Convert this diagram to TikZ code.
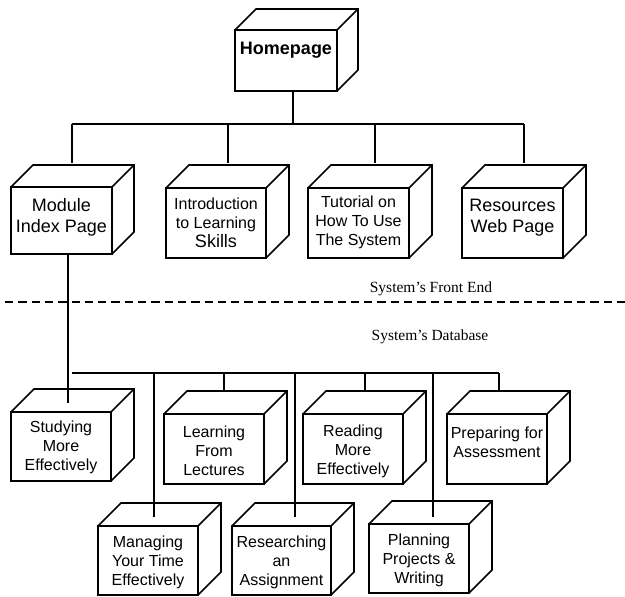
\documentclass[tikz,border=0pt]{standalone}
\usepackage{fontspec}
\setmainfont{Liberation Sans}
\newfontfamily\seriffont{Liberation Serif}
\usetikzlibrary{calc}

\tikzset{
  cube/.style={draw, line width=1.6pt, outer sep=0pt, inner sep=0pt},
  boxtext/.style={align=center, inner sep=0pt, font=\fontsize{16}{19}\selectfont},
  bigtext/.style={align=center, inner sep=0pt, font=\fontsize{18}{21}\selectfont},
  conn/.style={line width=1.6pt},
  sepline/.style={line width=1.6pt, dash pattern=on 8.3pt off 5pt},
  labeltext/.style={inner sep=0pt, font=\seriffont\fontsize{15.5}{18}\selectfont},
}

% name, cx, cy, w, h, depth
\newcommand\mycube[6]{%
  \node[cube, minimum width=#4pt, minimum height=#5pt] (#1) at (#2,#3) {};
  \draw[line width=1.6pt, line join=miter]
    (#1.north west) -- ++(#6,-#6) -- ($(#1.north east)+(#6,-#6)$)
    -- ($(#1.south east)+(#6,-#6)$) -- (#1.south east)
    (#1.north east) -- ($(#1.north east)+(#6,-#6)$);
}

\begin{document}
\begin{tikzpicture}[x=1pt, y=-1pt]
\useasboundingbox (0,0) rectangle (625,597);

% ---- cubes ----
\mycube{home}{286}{60.5}{102}{61}{21}
\node[bigtext, font=\bfseries\fontsize{18}{21}\selectfont] (homeT) at ($(home.center)+(0,-10)$) {Homepage};

\mycube{mod}{61.5}{220.5}{101}{67}{22}
\node[bigtext] (modT) at ($(mod.center)+(0,-3)$) {Module\\Index Page};

\mycube{intro}{216}{223}{100}{70}{23}
\node[boxtext] (introT) at ($(intro.center)+(0,0)$) {Introduction\\to Learning\\{\fontsize{18}{19}\selectfont Skills}};

\mycube{tut}{358.5}{223}{101}{70}{23}
\node[boxtext] (tutT) at ($(tut.center)+(0,-1)$) {Tutorial on\\How To Use\\The System};

\mycube{res}{512.5}{223}{101}{70}{23}
\node[bigtext] (resT) at ($(res.center)+(0,-5)$) {Resources\\Web Page};

\mycube{stud}{61}{446.5}{100}{69}{23}
\node[boxtext] (studT) at ($(stud.center)+(0,1)$) {Studying\\More\\Effectively};

\mycube{learn}{214}{449}{100}{70}{23}
\node[boxtext] (learnT) at ($(learn.center)+(0,2)$) {Learning\\From\\Lectures};

\mycube{read}{353}{449}{100}{70}{23}
\node[boxtext] (readT) at ($(read.center)+(0,2)$) {Reading\\More\\Effectively};

\mycube{prep}{497}{449}{100}{70}{23}
\node[boxtext] (prepT) at ($(prep.center)+(0,-7)$) {Preparing for\\Assessment};

\mycube{man}{148}{560.5}{100}{69}{23}
\node[boxtext] (manT) at ($(man.center)+(0,2)$) {Managing\\Your Time\\Effectively};

\mycube{rsch}{281.5}{560.5}{99}{69}{23}
\node[boxtext] (rschT) at ($(rsch.center)+(0,2)$) {Researching\\an\\Assignment};

\mycube{plan}{419}{558.5}{100}{69}{23}
\node[boxtext] (planT) at ($(plan.center)+(0,2)$) {Planning\\Projects \&\\Writing};

% ---- top connectors ----
\coordinate (busT) at (0,124);
\coordinate (homeB) at ($(home.south)+(7,0)$);
\coordinate (modC) at ($(mod.north)+(10.5,-24)$);
\coordinate (introC) at ($(intro.north)+(12,-25)$);
\coordinate (tutC) at ($(tut.north)+(16.5,-25)$);
\coordinate (resC) at ($(res.north)+(11.5,-25)$);
\draw[conn] (homeB) -- (homeB |- busT);
\draw[conn] (busT -| modC) -- (busT -| resC);
\draw[conn] (busT -| modC) -- (modC);
\draw[conn] (busT -| introC) -- (introC);
\draw[conn] (busT -| tutC) -- (tutC);
\draw[conn] (busT -| resC) -- (resC);

% ---- lower connectors ----
\coordinate (busB) at (0,373);
\coordinate (modB) at ($(mod.south)+(6.5,0)$);
\coordinate (studC) at ($(stud.north)+(7,-9)$);
\draw[conn] (modB) -- (modB |- studC);
\coordinate (manC) at ($(man.north)+(6,-9)$);
\coordinate (learnC) at ($(learn.north)+(10,-22)$);
\coordinate (rschC) at ($(rsch.north)+(13.5,-9)$);
\coordinate (readC) at ($(read.north)+(12,-22)$);
\coordinate (planC) at ($(plan.north)+(14,-7)$);
\coordinate (prepC) at ($(prep.north)+(2,-22)$);
\draw[conn] (72,373) -- (busB -| prepC);
\draw[conn] (busB -| manC) -- (manC);
\draw[conn] (busB -| learnC) -- (learnC);
\draw[conn] (busB -| rschC) -- (rschC);
\draw[conn] (busB -| readC) -- (readC);
\draw[conn] (busB -| planC) -- (planC);
\draw[conn] (busB -| prepC) -- (prepC);

% ---- separator ----
\coordinate (sepL) at (5,302);
\coordinate (sepR) at (625,302);
\draw[sepline] (sepL) -- (sepR);
\node[labeltext] (frontend) at (431,289) {System’s Front End};
\node[labeltext] (database) at (430,337) {System’s Database};
\end{tikzpicture}
\end{document}
